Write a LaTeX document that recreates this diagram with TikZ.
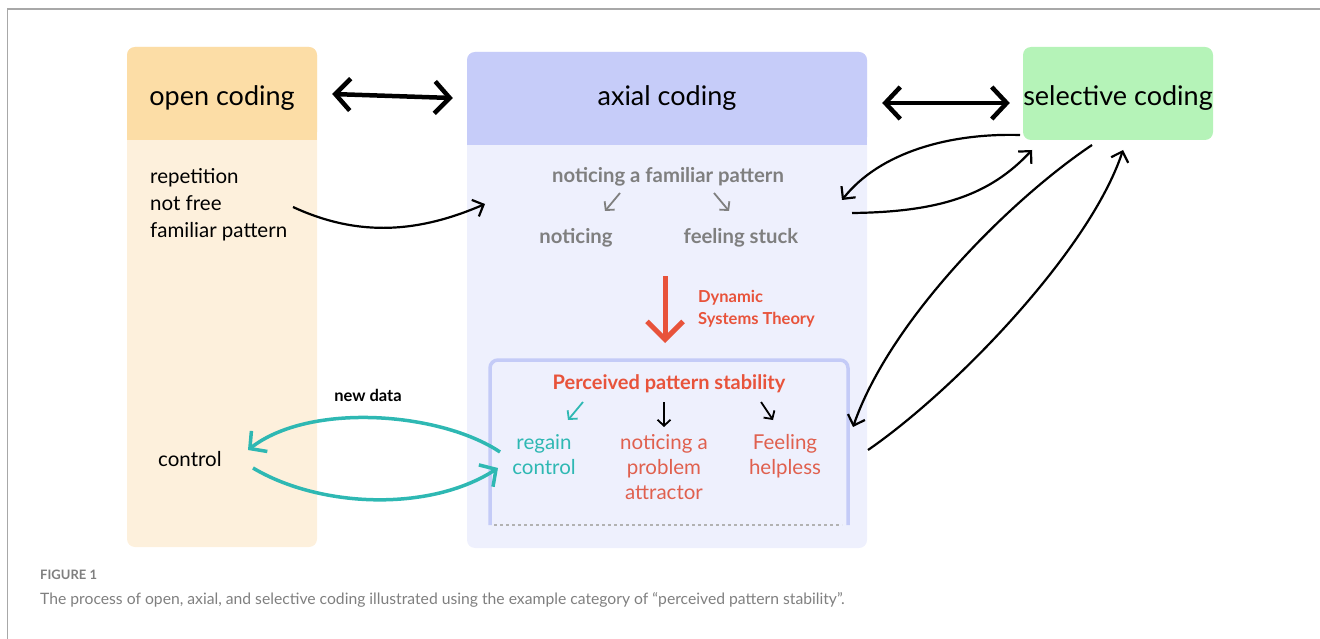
\documentclass[tikz,border=0pt]{standalone}
\usepackage{fontspec}
\setmainfont{Lato}
\usetikzlibrary{arrows.meta}
\definecolor{openhead}{HTML}{FCDDA6}
\definecolor{openbody}{HTML}{FDF0DC}
\definecolor{axhead}{HTML}{C6CCF9}
\definecolor{axbody}{HTML}{EEF0FD}
\definecolor{selfill}{HTML}{B5F3B8}
\definecolor{greytxt}{HTML}{7F7F7F}
\definecolor{dstred}{HTML}{E8533B}
\definecolor{redtxt}{HTML}{E0604E}
\definecolor{tealc}{HTML}{2EB8B3}
\definecolor{innerline}{HTML}{C4CBF7}
\definecolor{framec}{HTML}{A8A8A8}
\begin{document}
\begin{tikzpicture}[x=1pt,y=-1pt,
  lbl/.style={inner sep=0pt, align=left, font=\fontsize{20.5}{27}\selectfont},
  sub/.style={inner sep=0pt, align=center, font=\fontsize{20.5}{25}\selectfont},
  head/.style={rounded corners=8, minimum height=93, inner sep=0pt},
  headtxt/.style={inner sep=0pt, font=\fontsize{27}{30}\selectfont},
  grey/.style={inner sep=0pt, text=greytxt, font=\bfseries\fontsize{20.3}{22}\selectfont},
  bigarr/.style={line width=4.5, line cap=round, {Straight Barb[length=15pt,width=32pt]}-{Straight Barb[length=15pt,width=32pt]}},
  link/.style={line width=2.2, -{Straight Barb[length=9pt,width=18pt]}},
  tealarr/.style={tealc, line width=3.5, -{Straight Barb[length=12pt,width=26pt]}},
  smallarr/.style={line width=1.8, -{Straight Barb[length=6pt,width=13pt]}}]
\useasboundingbox (0,0) rectangle (1320,639);
\draw[framec, line width=1.5] (7.5,639) -- (7.5,9) -- (1320,9);
\fill[openbody, rounded corners=8] (127,47) rectangle (317,547);
\fill[axbody, rounded corners=8] (467,52) rectangle (867,548);
\node[head, fill=openhead, minimum width=190] (open) at (222,93.5) {};
\fill[openhead] (127,125) rectangle (317,140);
\node[headtxt] (openlbl) at (222,98) {open coding};
\node[head, fill=axhead, minimum width=400] (axial) at (667,98.5) {};
\fill[axhead] (467,130) rectangle (867,145);
\node[headtxt] (axiallbl) at (667,98) {axial coding};
\node[head, fill=selfill, minimum width=190] (sel) at (1118,93.5) {};
\node[headtxt] (sellbl) at (1118,98) {selective coding};
\draw[bigarr, shorten <=15, shorten >=14] (open.east) -- (axial.west);
\draw[bigarr, shorten <=15, shorten >=13] (axial.east |- 0,103) -- (sel.west |- 0,103);
\node[lbl, anchor=west] (opentxt) at (150,205) {repetition\\not free\\familiar pattern};
\node[lbl, anchor=west] (ctrl) at (158,459) {control};
\node[grey] (fam) at (668,177) {noticing a familiar pattern};
\node[grey] (notc) at (576,238) {noticing};
\node[grey] (stuck) at (741,238) {feeling stuck};
\draw[smallarr, greytxt] (620,193) -- (605,211);
\draw[smallarr, greytxt] (714,193) -- (729,211);
\draw[dstred, line width=5, -{Straight Barb[length=18pt,width=36pt]}] (665,276) -- (665,343);
\node[inner sep=0pt, anchor=west, align=left, text=dstred, font=\bfseries\fontsize{16.5}{22}\selectfont] (dst) at (698,309) {Dynamic\\Systems Theory};
\draw[innerline, line width=3.5, rounded corners=8] (490,525) -- (490,360) -- (848,360) -- (848,525);
\draw[greytxt!60, line width=1.5, dashed] (494,525) -- (842,525);
\node[inner sep=0pt, text=dstred, font=\bfseries\fontsize{20}{24}\selectfont] (pps) at (669,384) {Perceived pattern stability};
\draw[smallarr, tealc] (583,402) -- (568,420);
\draw[smallarr] (664,402) -- (664,427);
\draw[smallarr] (761,402) -- (773,420);
\node[sub, anchor=north, text=tealc] (regain) at (544,434) {regain\\control};
\node[sub, anchor=north, text=redtxt] (attr) at (664,434) {noticing a\\problem\\attractor};
\node[sub, anchor=north, text=redtxt] (help) at (785,434) {Feeling\\helpless};
\node[inner sep=0pt, font=\bfseries\fontsize{16.5}{20}\selectfont] (newdata) at (368,395) {new data};
\draw[tealarr] (500,452) .. controls (440,412) and (310,402) .. (248,450);
\draw[tealarr] (253,468) .. controls (320,508) and (430,512) .. (498,468);
\draw[link] (293,207) .. controls (360,238) and (420,232) .. (485,204);
\draw[link] (1020,135) .. controls (950,133) and (880,152) .. (842,200);
\draw[link] (852,213) .. controls (940,212) and (990,195) .. (1032,150);
\draw[link] (1092,145) .. controls (1010,200) and (890,320) .. (853,427);
\draw[link] (868,450) .. controls (955,390) and (1090,250) .. (1123,150);
\node[inner sep=0pt, anchor=west, text=greytxt, font=\bfseries\fontsize{13}{16}\selectfont] (fig) at (40,575) {FIGURE 1};
\node[inner sep=0pt, anchor=west, text=greytxt, font=\fontsize{15.7}{20}\selectfont] (cap) at (40,600) {The process of open, axial, and selective coding illustrated using the example category of “perceived pattern stability”.};
\end{tikzpicture}
\end{document}
